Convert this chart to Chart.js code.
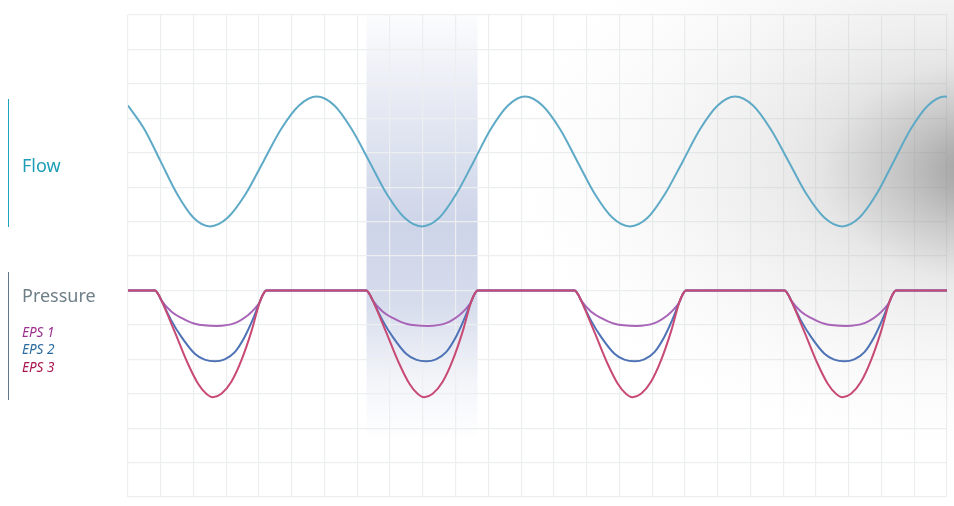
<!DOCTYPE html>
<html>
<head>
<meta charset="utf-8">
<script src="https://cdn.jsdelivr.net/npm/chart.js@4/dist/chart.umd.min.js"></script>
<style>
  html, body { margin: 0; padding: 0; background: #ffffff; }
  #wrap { position: relative; width: 954px; height: 506px; overflow: hidden; }
  #c { position: absolute; left: 0; top: 0; }
  .lbl { position: absolute; font-family: "Noto Sans", sans-serif; white-space: nowrap; }
  .big { font-size: 18px; line-height: 18px; }
  .eps { font-size: 13.5px; line-height: 13.5px; font-style: italic; }
  .bar { position: absolute; width: 1.5px; }
</style>
</head>
<body>
<div id="wrap">
  <canvas id="c" width="954" height="506"></canvas>
  <div class="bar" style="left:7.5px; top:99px; height:128px; background:#1aa3bd;"></div>
  <div class="bar" style="left:7.5px; top:272px; height:128px; background:#62788a;"></div>
  <div class="lbl big" style="left:22px; top:156px; color:#1e9fb7;">Flow</div>
  <div class="lbl big" style="left:22px; top:286px; color:#6e7f88;">Pressure</div>
  <div class="lbl eps" style="left:22px; top:326px; color:#9b2f8f;">EPS 1</div>
  <div class="lbl eps" style="left:22px; top:343px; color:#2b6a9e;">EPS 2</div>
  <div class="lbl eps" style="left:22px; top:361px; color:#a8154e;">EPS 3</div>
</div>
<script>
// Grid extents (grid units)
const xRange = [0, 25];
const yRange = [0, 14];

// Highlighted inspiration band (x units)
const band = [7.28, 10.67];

// Flow waveform [x, y]
const flow = [
  [0, 11.37], [0.5, 10.68], [1.0, 9.74], [1.5, 8.80], [2.0, 8.11], [2.50, 7.86],
  [3.04, 8.11], [3.59, 8.80], [4.13, 9.74], [4.67, 10.68], [5.22, 11.37], [5.76, 11.63],
  [6.30, 11.37], [6.83, 10.68], [7.37, 9.74], [7.90, 8.80], [8.44, 8.11], [8.97, 7.86],
  [9.50, 8.11], [10.02, 8.80], [10.55, 9.74], [11.07, 10.68], [11.60, 11.37], [12.12, 11.63],
  [12.65, 11.37], [13.19, 10.68], [13.72, 9.74], [14.25, 8.80], [14.79, 8.11], [15.32, 7.86],
  [15.86, 8.11], [16.39, 8.80], [16.93, 9.74], [17.46, 10.68], [18.00, 11.37], [18.53, 11.63],
  [19.08, 11.37], [19.62, 10.68], [20.17, 9.74], [20.71, 8.80], [21.26, 8.11], [21.80, 7.86],
  [22.32, 8.11], [22.85, 8.80], [23.37, 9.74], [23.89, 10.68], [24.42, 11.37], [24.94, 11.63],
  [25, 11.62]
];

// Pressure, EPS 1 [x, y]
const eps1 = [
  [0, 6.0],
  [0.83, 6.0], [0.93, 5.88], [1.02, 5.71], [1.32, 5.39], [1.63, 5.20], [2.04, 5.03], [2.70, 4.97], [3.26, 5.05], [3.66, 5.28], [3.87, 5.47], [4.02, 5.66], [4.12, 5.88], [4.22, 6.0],
  [7.28, 6.0], [7.38, 5.88], [7.47, 5.71], [7.77, 5.39], [8.08, 5.20], [8.49, 5.03], [9.15, 4.97], [9.71, 5.05], [10.11, 5.28], [10.32, 5.47], [10.47, 5.66], [10.57, 5.88], [10.67, 6.0],
  [13.64, 6.0], [13.74, 5.88], [13.83, 5.71], [14.13, 5.39], [14.44, 5.20], [14.85, 5.03], [15.51, 4.97], [16.07, 5.05], [16.47, 5.28], [16.68, 5.47], [16.83, 5.66], [16.93, 5.88], [17.03, 6.0],
  [20.05, 6.0], [20.15, 5.88], [20.24, 5.71], [20.54, 5.39], [20.85, 5.20], [21.26, 5.03], [21.92, 4.97], [22.48, 5.05], [22.88, 5.28], [23.09, 5.47], [23.24, 5.66], [23.34, 5.88], [23.44, 6.0],
  [25, 6.0]
];

// Pressure, EPS 2 [x, y]
const eps2 = [
  [0, 6.0],
  [0.83, 6.0], [0.93, 5.88], [1.02, 5.71], [1.32, 5.13], [1.63, 4.65], [2.04, 4.16], [2.34, 3.99], [2.65, 3.94], [2.95, 4.00], [3.26, 4.21], [3.56, 4.65], [3.82, 5.18], [4.02, 5.66], [4.12, 5.88], [4.22, 6.0],
  [7.28, 6.0], [7.38, 5.88], [7.47, 5.71], [7.77, 5.13], [8.08, 4.65], [8.49, 4.16], [8.79, 3.99], [9.10, 3.94], [9.40, 4.00], [9.71, 4.21], [10.01, 4.65], [10.27, 5.18], [10.47, 5.66], [10.57, 5.88], [10.67, 6.0],
  [13.64, 6.0], [13.74, 5.88], [13.83, 5.71], [14.13, 5.13], [14.44, 4.65], [14.85, 4.16], [15.15, 3.99], [15.46, 3.94], [15.76, 4.00], [16.07, 4.21], [16.37, 4.65], [16.63, 5.18], [16.83, 5.66], [16.93, 5.88], [17.03, 6.0],
  [20.05, 6.0], [20.15, 5.88], [20.24, 5.71], [20.54, 5.13], [20.85, 4.65], [21.26, 4.16], [21.56, 3.99], [21.87, 3.94], [22.17, 4.00], [22.48, 4.21], [22.78, 4.65], [23.04, 5.18], [23.24, 5.66], [23.34, 5.88], [23.44, 6.0],
  [25, 6.0]
];

// Pressure, EPS 3 [x, y]
const eps3 = [
  [0, 6.0],
  [0.83, 6.0], [0.93, 5.88], [1.02, 5.71], [1.43, 4.79], [1.83, 3.87], [2.14, 3.29], [2.39, 3.00], [2.59, 2.90], [2.85, 3.00], [3.15, 3.34], [3.46, 3.97], [3.76, 4.79], [4.02, 5.66], [4.12, 5.88], [4.22, 6.0],
  [7.28, 6.0], [7.38, 5.88], [7.47, 5.71], [7.88, 4.79], [8.28, 3.87], [8.59, 3.29], [8.84, 3.00], [9.04, 2.90], [9.30, 3.00], [9.60, 3.34], [9.91, 3.97], [10.21, 4.79], [10.47, 5.66], [10.57, 5.88], [10.67, 6.0],
  [13.64, 6.0], [13.74, 5.88], [13.83, 5.71], [14.24, 4.79], [14.64, 3.87], [14.95, 3.29], [15.20, 3.00], [15.40, 2.90], [15.66, 3.00], [15.96, 3.34], [16.27, 3.97], [16.57, 4.79], [16.83, 5.66], [16.93, 5.88], [17.03, 6.0],
  [20.05, 6.0], [20.15, 5.88], [20.24, 5.71], [20.65, 4.79], [21.05, 3.87], [21.36, 3.29], [21.61, 3.00], [21.81, 2.90], [22.07, 3.00], [22.37, 3.34], [22.68, 3.97], [22.98, 4.79], [23.24, 5.66], [23.34, 5.88], [23.44, 6.0],
  [25, 6.0]
];

const toPts = arr => arr.map(p => ({ x: p[0], y: p[1] }));

function radial(ctx, cx, cy, sy, r, stops) {
  ctx.save();
  ctx.translate(cx, cy);
  ctx.scale(1, sy);
  const g = ctx.createRadialGradient(0, 0, 0, 0, 0, r);
  stops.forEach(s => g.addColorStop(s[0], s[1]));
  ctx.fillStyle = g;
  ctx.fillRect(-r, -r, 2 * r, 2 * r);
  ctx.restore();
}

const backdrop = {
  id: 'backdrop',
  beforeDraw(chart) {
    const ctx = chart.ctx;
    const xs = chart.scales.x, ys = chart.scales.y;
    ctx.save();
    ctx.fillStyle = '#ffffff';
    ctx.fillRect(0, 0, chart.width, chart.height);
    // highlighted band
    const x0 = xs.getPixelForValue(band[0]);
    const x1 = xs.getPixelForValue(band[1]);
    const top = ys.getPixelForValue(yRange[1]);
    const bg = ctx.createLinearGradient(0, top, 0, 440);
    bg.addColorStop(0, 'rgba(175,186,218,0.04)');
    bg.addColorStop(0.22, 'rgba(175,186,218,0.32)');
    bg.addColorStop(0.5, 'rgba(175,186,218,0.62)');
    bg.addColorStop(0.68, 'rgba(175,186,218,0.5)');
    bg.addColorStop(0.86, 'rgba(175,186,218,0.15)');
    bg.addColorStop(1, 'rgba(175,186,218,0)');
    ctx.fillStyle = bg;
    ctx.fillRect(x0, top, x1 - x0, 440 - top);
    ctx.restore();
  },
  beforeDatasetsDraw(chart) {
    const ctx = chart.ctx;
    ctx.save();
    // broad soft grey shadow on the right
    radial(ctx, 990, 165, 0.6, 480, [
      [0, 'rgba(130,130,130,0.5)'],
      [0.2, 'rgba(150,150,150,0.38)'],
      [0.45, 'rgba(175,175,175,0.24)'],
      [0.75, 'rgba(200,200,200,0.1)'],
      [1, 'rgba(220,220,220,0)']
    ]);
    // concentrated dark spot at the right edge
    radial(ctx, 990, 172, 0.65, 170, [
      [0, 'rgba(110,110,110,0.5)'],
      [0.5, 'rgba(130,130,130,0.22)'],
      [1, 'rgba(150,150,150,0)']
    ]);
    ctx.restore();
  }
};

const lineDefaults = {
  pointRadius: 0,
  borderWidth: 2,
  cubicInterpolationMode: 'monotone',
  fill: false
};

new Chart(document.getElementById('c'), {
  type: 'line',
  data: {
    datasets: [
      Object.assign({ label: 'EPS 3', data: toPts(eps3), borderColor: '#c84a74', order: 0 }, lineDefaults),
      Object.assign({ label: 'EPS 2', data: toPts(eps2), borderColor: '#4d72b6', order: 1 }, lineDefaults),
      Object.assign({ label: 'EPS 1', data: toPts(eps1), borderColor: '#a865b8', order: 2 }, lineDefaults),
      Object.assign({ label: 'Flow', data: toPts(flow), borderColor: '#5eaac6', order: 3 }, lineDefaults)
    ]
  },
  options: {
    responsive: false,
    animation: false,
    devicePixelRatio: 1,
    layout: { padding: { left: 128, right: 7, top: 15, bottom: 9 } },
    plugins: { legend: { display: false }, tooltip: { enabled: false } },
    scales: {
      x: {
        type: 'linear', min: xRange[0], max: xRange[1],
        ticks: { display: false, stepSize: 1 },
        grid: { color: '#eceef0', lineWidth: 1.2, drawTicks: false },
        border: { display: false },
        afterFit: s => { s.height = 0; }
      },
      y: {
        type: 'linear', min: yRange[0], max: yRange[1],
        ticks: { display: false, stepSize: 1 },
        grid: { color: '#eceef0', lineWidth: 1.2, drawTicks: false },
        border: { display: false },
        afterFit: s => { s.width = 0; }
      }
    }
  },
  plugins: [backdrop]
});
</script>
</body>
</html>
